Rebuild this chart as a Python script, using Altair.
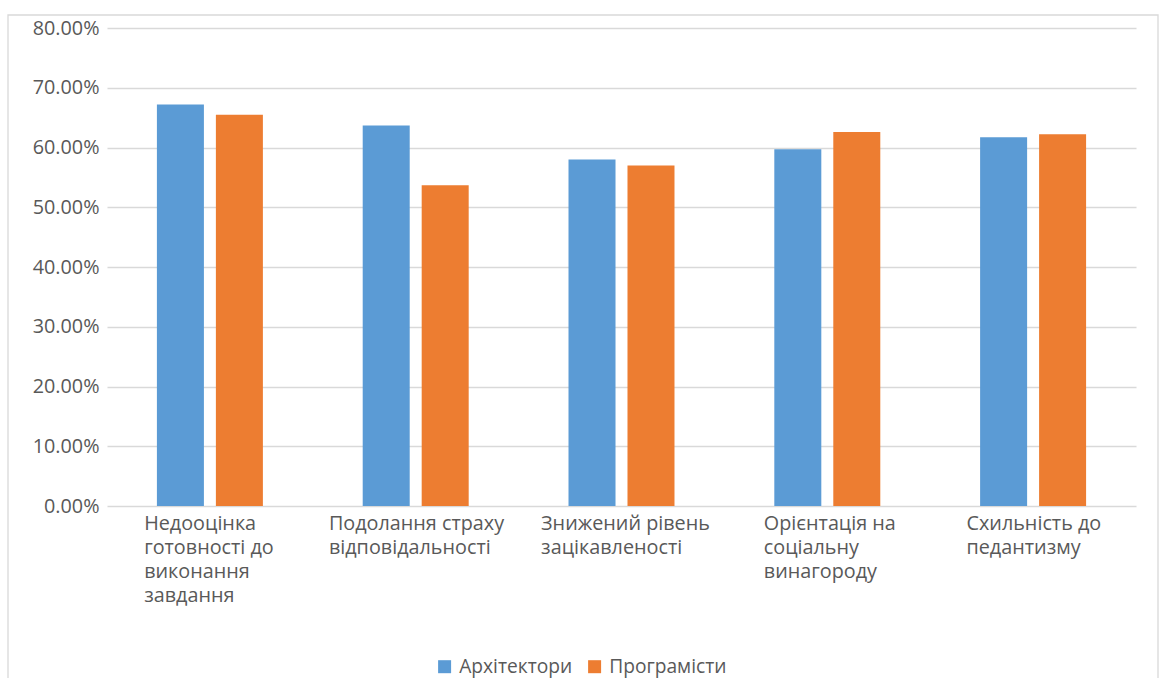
import altair as alt
import pandas as pd

# Survey categories and the wrapped lines shown under each group
categories = [
    "Недооцінка готовності до виконання завдання",
    "Подолання страху відповідальності",
    "Знижений рівень зацікавленості",
    "Орієнтація на соціальну винагороду",
    "Схильність до педантизму",
]
label_lines = [
    ["Недооцінка", "готовності до", "виконання", "завдання"],
    ["Подолання страху", "відповідальності"],
    ["Знижений рівень", "зацікавленості"],
    ["Орієнтація на", "соціальну", "винагороду"],
    ["Схильність до", "педантизму"],
]

series = ["Архітектори", "Програмісти"]
architects = [0.672, 0.637, 0.580, 0.597, 0.617]
programmers = [0.655, 0.537, 0.570, 0.626, 0.622]
series_colors = ["#5B9BD5", "#ED7D31"]

y_ticks = [0.0, 0.1, 0.2, 0.3, 0.4, 0.5, 0.6, 0.7, 0.8]

FONT = "Open Sans"
FONT_SIZE = 19.8
LEGEND_FONT_SIZE = 19.2
TEXT_COLOR = "#595959"
GRID_COLOR = "#d9d9d9"

PLOT_W = 1029
PLOT_H = 478
PAD_LEFT, PAD_TOP = 107, 28
PAD_RIGHT = 1161 - PAD_LEFT - PLOT_W
PAD_BOTTOM = 678 - PAD_TOP - PLOT_H

rows = []
for cat, a, p in zip(categories, architects, programmers):
    rows.append({"cat": cat, "series": series[0], "value": a})
    rows.append({"cat": cat, "series": series[1], "value": p})
bars_df = pd.DataFrame(rows)

x_scale = alt.Scale(domain=categories, paddingInner=0.485, paddingOuter=0.2425)

bars = alt.Chart(bars_df).mark_bar().encode(
    x=alt.X("cat:N", sort=categories, scale=x_scale, axis=None),
    xOffset=alt.XOffset("series:N", sort=series,
                        scale=alt.Scale(paddingInner=0.203, paddingOuter=0)),
    y=alt.Y(
        "value:Q",
        scale=alt.Scale(domain=[0, 0.8], nice=False),
        axis=alt.Axis(
            values=y_ticks, format=".2%", title=None,
            grid=True, gridColor=GRID_COLOR, gridWidth=1.4,
            domain=False, ticks=False, labelPadding=8,
            labelFont=FONT, labelFontSize=FONT_SIZE, labelColor=TEXT_COLOR,
        ),
    ),
    color=alt.Color(
        "series:N", sort=series,
        scale=alt.Scale(domain=series, range=series_colors),
        legend=alt.Legend(
            orient="none", legendX=435 - PAD_LEFT, legendY=657 - PAD_TOP,
            direction="horizontal", title=None, padding=0,
            symbolType="square", symbolSize=169, symbolStrokeWidth=0,
            labelFont=FONT, labelFontSize=LEGEND_FONT_SIZE, labelColor=TEXT_COLOR,
            labelOffset=5, columnPadding=12,
        ),
    ),
)


# Rough text width so each wrapped block can be centred under its group
def text_width(s, size):
    narrow = set("іїl.,:;' ")
    wide = set("мшщжюфМШЩЖЮФ")
    w = 0.0
    for ch in s:
        if ch in narrow:
            w += 0.26
        elif ch in wide:
            w += 0.82
        elif ch.isupper():
            w += 0.66
        else:
            w += 0.575
    return w * size


label_layers = []
for cat, lines in zip(categories, label_lines):
    block_w = max(text_width(l, FONT_SIZE) for l in lines)
    df = pd.DataFrame({"cat": [cat], "label": ["\n".join(lines)]})
    label_layers.append(
        alt.Chart(df).mark_text(
            align="left", baseline="alphabetic", lineBreak="\n", lineHeight=24,
            dx=-block_w / 2 + 2, font=FONT, fontSize=FONT_SIZE, color=TEXT_COLOR,
        ).encode(
            x=alt.X("cat:N", sort=categories, scale=x_scale, axis=None),
            y=alt.value(PLOT_H + 24),
            text="label:N",
        )
    )

# Light frame around the whole chart
frame = alt.Chart(pd.DataFrame({"k": [0]})).mark_rect(
    filled=False, stroke=GRID_COLOR, strokeWidth=1.3
).encode(
    x=alt.value(8 - PAD_LEFT), x2=alt.value(1158 - PAD_LEFT),
    y=alt.value(15 - PAD_TOP), y2=alt.value(PLOT_H + PAD_BOTTOM + 20),
)

chart = alt.layer(frame, bars, *label_layers).properties(
    width=PLOT_W, height=PLOT_H,
    autosize=alt.AutoSizeParams(type="none"),
    padding={"left": PAD_LEFT, "top": PAD_TOP, "right": PAD_RIGHT, "bottom": PAD_BOTTOM},
    background="white",
).configure_view(stroke=None)

chart.save("out.html", embed_options={"renderer": "svg", "actions": False})
